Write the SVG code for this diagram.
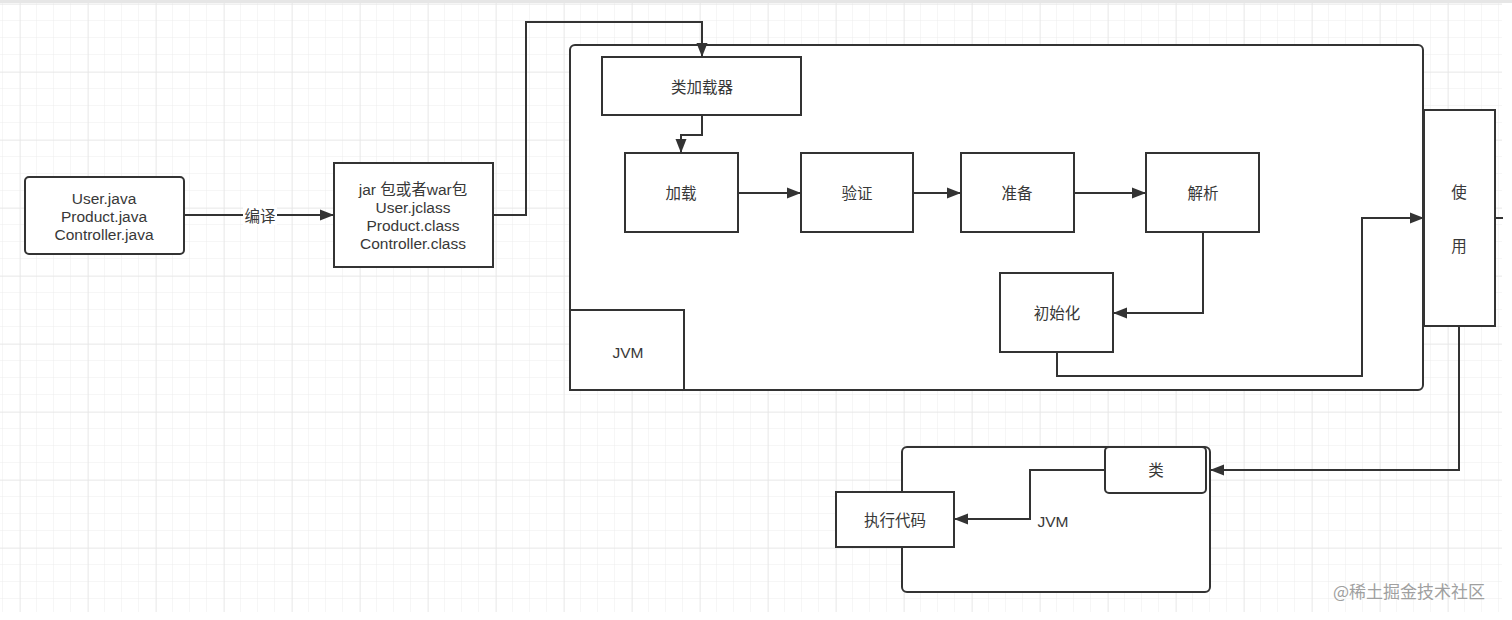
<svg xmlns="http://www.w3.org/2000/svg" width="1512" height="620" viewBox="0 0 1512 620">
<defs>
<pattern id="minor" width="17" height="17" patternUnits="userSpaceOnUse" x="3" y="4">
<path d="M17 0 V17 M0 17 H17" fill="none" stroke="#ececec" stroke-width="1"/>
</pattern>
<pattern id="major" width="68" height="68" patternUnits="userSpaceOnUse" x="20" y="4">
<path d="M0 0 V68 M0 0 H68" fill="none" stroke="#e2e2e2" stroke-width="1"/>
</pattern>
<marker id="arr" markerWidth="14" markerHeight="12" refX="13" refY="6" orient="auto" markerUnits="userSpaceOnUse">
<path d="M0,0.5 L14,6 L0,11.5 z" fill="#333"/>
</marker>
<style>
.box{fill:#fff;stroke:#333;stroke-width:2}
.edge{fill:none;stroke:#333;stroke-width:2}
.t{font-family:"Liberation Sans","Noto Sans CJK SC",sans-serif;font-size:15.5px;fill:#383838;text-anchor:middle;dominant-baseline:central}
.wm{font-family:"Noto Sans CJK SC",sans-serif;font-size:17px;fill:#a0a0a0}
</style>
</defs>
<rect width="1512" height="620" fill="#fff"/>
<rect x="0" y="3" width="1502" height="609" fill="url(#minor)"/>
<rect x="0" y="3" width="1502" height="609" fill="url(#major)"/>
<rect x="0" y="0" width="1512" height="3" fill="#e6e6e6"/>

<g id="src"><rect class="box" x="25" y="177" width="159" height="77" rx="4"/>
<text class="t" x="104" y="198">User.java</text><text class="t" x="104" y="216">Product.java</text><text class="t" x="104" y="234">Controller.java</text></g>

<g id="jar"><rect class="box" x="334" y="163" width="159" height="104"/>
<text class="t" x="413" y="189">jar 包或者war包</text><text class="t" x="413" y="207">User.jclass</text><text class="t" x="413" y="225">Product.class</text><text class="t" x="413" y="243">Controller.class</text></g>

<g id="jvm"><rect class="box" x="570" y="45" width="853" height="345" rx="5"/></g>
<g id="jvm-label"><rect class="box" x="570" y="310" width="114" height="80"/><text class="t" x="628" y="352">JVM</text></g>

<g id="loader"><rect class="box" x="602" y="57" width="199" height="58"/><text class="t" x="702" y="87">类加载器</text></g>
<g id="load"><rect class="box" x="625" y="153" width="113" height="79"/><text class="t" x="681" y="193">加载</text></g>
<g id="verify"><rect class="box" x="801" y="153" width="112" height="79"/><text class="t" x="857" y="193">验证</text></g>
<g id="prepare"><rect class="box" x="961" y="153" width="113" height="79"/><text class="t" x="1017" y="193">准备</text></g>
<g id="resolve"><rect class="box" x="1146" y="153" width="113" height="79"/><text class="t" x="1203" y="193">解析</text></g>
<g id="init"><rect class="box" x="1000" y="273" width="113" height="79"/><text class="t" x="1057" y="313">初始化</text></g>

<g id="use"><rect class="box" x="1424" y="110" width="71" height="216"/><text class="t" x="1459" y="192">使</text><text class="t" x="1459" y="246">用</text></g>

<g id="jvm2"><rect class="box" x="902" y="447" width="308" height="145" rx="5"/><text class="t" x="1053" y="521">JVM</text></g>
<g id="cls"><rect class="box" x="1105" y="447" width="101" height="46" rx="4"/><text class="t" x="1156" y="470">类</text></g>
<g id="exec"><rect class="box" x="836" y="492" width="118" height="55"/><text class="t" x="895" y="520">执行代码</text></g>

<g id="connectors">
<path class="edge" d="M184 215 H333" marker-end="url(#arr)"/>
<rect x="243" y="205" width="34" height="20" fill="#fff"/>
<text class="t" x="260" y="216">编译</text>
<path class="edge" d="M493 215 H526 V22 H702 V56" marker-end="url(#arr)"/>
<path class="edge" d="M702 115 V135 H681 V152" marker-end="url(#arr)"/>
<path class="edge" d="M738 193 H800" marker-end="url(#arr)"/>
<path class="edge" d="M913 193 H960" marker-end="url(#arr)"/>
<path class="edge" d="M1074 193 H1145" marker-end="url(#arr)"/>
<path class="edge" d="M1203 232 V313 H1114" marker-end="url(#arr)"/>
<path class="edge" d="M1057 352 V376 H1362 V218 H1423" marker-end="url(#arr)"/>
<path class="edge" d="M1495 218 H1503"/>
<path class="edge" d="M1459 326 V470 H1211" marker-end="url(#arr)"/>
<path class="edge" d="M1105 470 H1030 V519 H955" marker-end="url(#arr)"/>
</g>
<text class="wm" x="1333" y="598">@稀土掘金技术社区</text>
</svg>
